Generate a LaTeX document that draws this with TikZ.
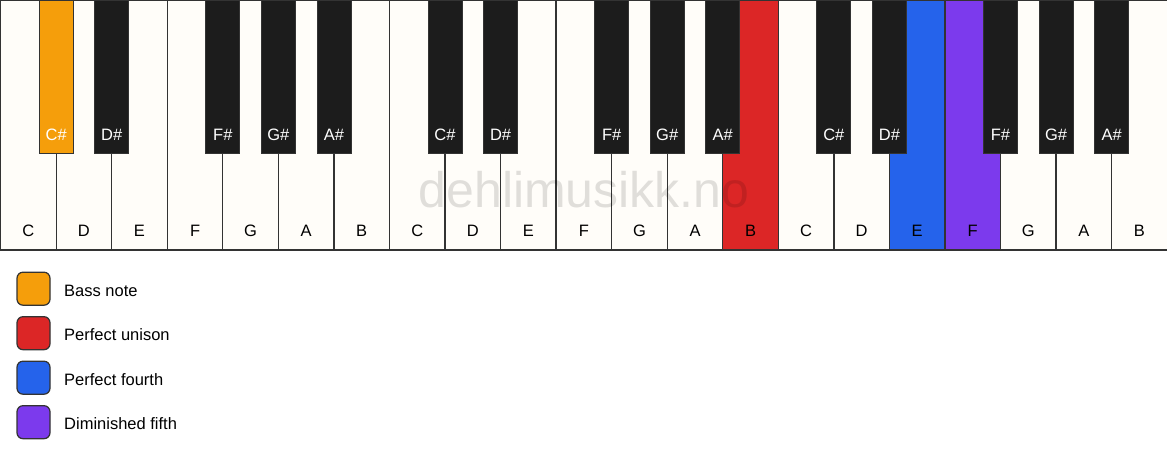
\documentclass[tikz,border=0pt]{standalone}
\usepackage{fontspec}
\setmainfont{Liberation Sans}
\definecolor{keyline}{HTML}{333333}
\definecolor{ivory}{HTML}{FFFDF9}
\definecolor{keyblack}{HTML}{1C1C1C}
\definecolor{bassorange}{HTML}{F59E0B}
\definecolor{unisonred}{HTML}{DC2626}
\definecolor{fourthblue}{HTML}{2563EB}
\definecolor{fifthpurple}{HTML}{7C3AED}
\begin{document}
\begin{tikzpicture}[x=1pt,y=-1pt,
  whitekey/.style={rectangle, draw=keyline, line width=1.3pt, minimum width=55.55pt, minimum height=250pt, inner sep=0pt, outer sep=0pt, anchor=north west},
  blackkey/.style={rectangle, draw=keyline, line width=0.8pt, minimum width=34pt, minimum height=153pt, inner sep=0pt, outer sep=0pt, anchor=north},
  wlabel/.style={anchor=base, inner sep=0pt, text=black, font=\fontsize{16.5}{19}\selectfont},
  blabel/.style={anchor=base, inner sep=0pt, text=white, font=\fontsize{16.5}{19}\selectfont},
  legbox/.style={rectangle, rounded corners=6pt, draw=keyline, line width=1.2pt, minimum width=33pt, minimum height=33pt, inner sep=0pt},
  legtext/.style={anchor=base west, inner sep=0pt, text=black, font=\fontsize{16.5}{19}\selectfont},
  watermark/.style={anchor=base, inner sep=0pt, text=black, text opacity=0.12, font=\fontsize{50}{60}\selectfont}
]
\useasboundingbox (0,0) rectangle (1167,461);
\fill[white] (0,0) rectangle (1167,461);
% white keys
\foreach \i/\n/\c in {0/C/ivory,1/D/ivory,2/E/ivory,3/F/ivory,4/G/ivory,5/A/ivory,6/B/ivory,
  7/C/ivory,8/D/ivory,9/E/ivory,10/F/ivory,11/G/ivory,12/A/ivory,13/B/unisonred,
  14/C/ivory,15/D/ivory,16/E/fourthblue,17/F/fifthpurple,18/G/ivory,19/A/ivory,20/B/ivory}{
  \node[whitekey, fill=\c] (w\i) at ({\i*55.55+0.6},0) {};
  \node[wlabel] (wl\i) at ({\i*55.55+28.4},236) {\n};
}
% watermark
\node[watermark] (wm) at (584,207) {dehlimusikk.no};
% black keys
\foreach \b/\n/\c in {1/C\#/bassorange,2/D\#/keyblack,4/F\#/keyblack,5/G\#/keyblack,6/A\#/keyblack,
  8/C\#/keyblack,9/D\#/keyblack,11/F\#/keyblack,12/G\#/keyblack,13/A\#/keyblack,
  15/C\#/keyblack,16/D\#/keyblack,18/F\#/keyblack,19/G\#/keyblack,20/A\#/keyblack}{
  \node[blackkey, fill=\c] (b\b) at ({\b*55.55+0.6},0) {};
  \node[blabel] (bl\b) at ({\b*55.55+0.6},140) {\n};
}
% legend
\node[legbox, fill=bassorange] (lg1) at (33.5,288.7) {};
\node[legtext] (lt1) at (64,296) {Bass note};
\node[legbox, fill=unisonred] (lg2) at (33.5,333.2) {};
\node[legtext] (lt2) at (64,340.5) {Perfect unison};
\node[legbox, fill=fourthblue] (lg3) at (33.5,377.7) {};
\node[legtext] (lt3) at (64,385) {Perfect fourth};
\node[legbox, fill=fifthpurple] (lg4) at (33.5,422.2) {};
\node[legtext] (lt4) at (64,429.5) {Diminished fifth};
\end{tikzpicture}
\end{document}
